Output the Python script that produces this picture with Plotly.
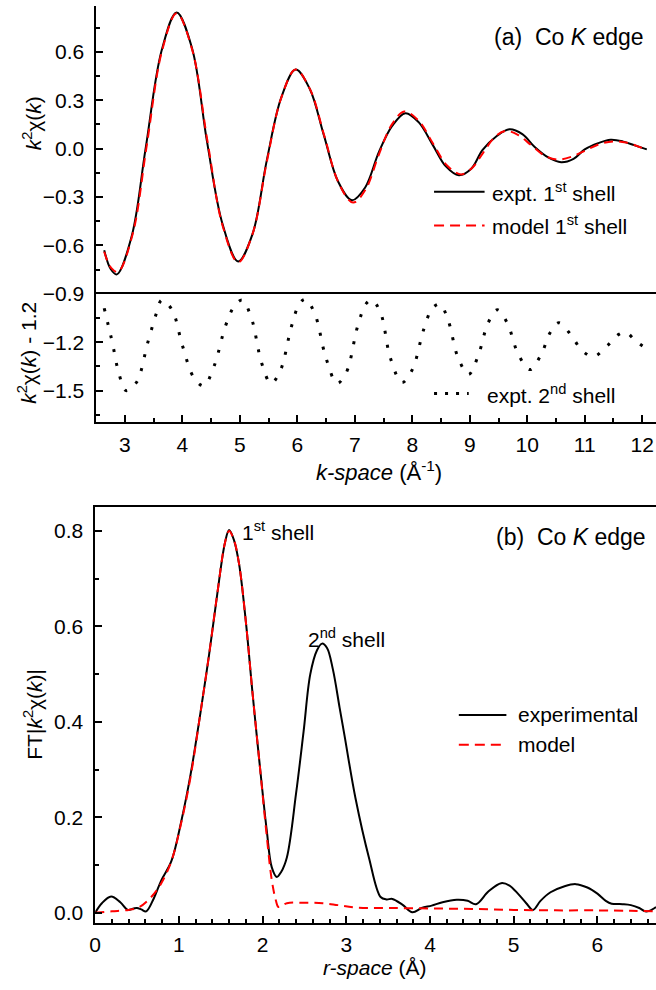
import plotly.graph_objects as go

# ---------------- (a) k-space, first shell ----------------
k_first_expt = [2.64, 2.75, 2.86, 3.12, 3.36, 3.64, 3.90, 4.17, 4.43, 4.70, 4.97, 5.22,
                5.47, 5.72, 5.97, 6.215, 6.46, 6.705, 6.95, 7.18, 7.42, 7.65, 7.88, 8.11,
                8.36, 8.58, 8.81, 9.03, 9.22, 9.47, 9.69, 9.915, 10.13, 10.365, 10.59,
                10.805, 11.00, 11.235, 11.45, 11.66, 11.87, 12.08]
chi_first_expt = [-0.63, -0.745, -0.78, -0.54, 0.00, 0.61, 0.845, 0.62, 0.04, -0.47, -0.70,
                  -0.53, -0.07, 0.316, 0.49, 0.371, 0.085, -0.201, -0.32, -0.241, -0.02,
                  0.141, 0.22, 0.164, 0.02, -0.109, -0.165, -0.123, -0.01, 0.078, 0.12,
                  0.09, 0.01, -0.055, -0.085, -0.064, -0.005, 0.034, 0.055, 0.045, 0.02,
                  -0.005]

k_first_model = [2.64, 2.76, 2.88, 3.135, 3.38, 3.645, 3.90, 4.17, 4.435, 4.70, 4.97,
                 5.22, 5.47, 5.72, 5.97, 6.22, 6.47, 6.72, 6.97, 7.19, 7.415, 7.64, 7.86,
                 8.11, 8.355, 8.60, 8.85, 9.04, 9.235, 9.43, 9.62, 9.845, 10.07, 10.295,
                 10.52, 10.765, 11.01, 11.255, 11.50, 11.72, 11.92, 12.08]
chi_first_model = [-0.64, -0.74, -0.765, -0.53, 0.02, 0.605, 0.84, 0.614, 0.05, -0.478,
                   -0.705, -0.53, -0.08, 0.315, 0.49, 0.369, 0.078, -0.214, -0.335, -0.252,
                   -0.04, 0.147, 0.23, 0.173, 0.035, -0.103, -0.16, -0.12, -0.025, 0.07,
                   0.11, 0.084, 0.021, -0.042, -0.068, -0.051, -0.012, 0.028, 0.045, 0.038,
                   0.015, -0.008]

# ---------------- (a) k-space, second shell (shifted by -1.2) ----------------
k_second = [2.64, 2.71, 2.78, 2.90, 3.02, 3.20, 3.40, 3.55, 3.64, 3.82, 4.00, 4.20, 4.37,
            4.55, 4.75, 4.90, 5.04, 5.20, 5.38, 5.54, 5.70, 5.90, 6.04, 6.14, 6.30, 6.50,
            6.69, 6.85, 7.05, 7.20, 7.30, 7.45, 7.62, 7.82, 8.00, 8.20, 8.35, 8.48, 8.62,
            8.80, 8.98, 9.15, 9.32, 9.48, 9.65, 9.85, 10.05, 10.25, 10.40, 10.55, 10.75,
            10.95, 11.15, 11.40, 11.60, 11.72, 11.88, 12.03]
chi_second = [-0.99, -1.095, -1.20, -1.40, -1.50, -1.45, -1.20, -1.02, -0.94, -1.00, -1.22,
              -1.42, -1.47, -1.35, -1.10, -0.98, -0.94, -1.05, -1.33, -1.455, -1.38, -1.10,
              -0.96, -0.935, -1.02, -1.30, -1.455, -1.39, -1.10, -0.96, -0.94, -1.02, -1.30,
              -1.45, -1.37, -1.12, -0.99, -0.965, -1.06, -1.30, -1.40, -1.28, -1.08, -1.00,
              -1.08, -1.28, -1.37, -1.27, -1.14, -1.08, -1.15, -1.25, -1.29, -1.22, -1.15,
              -1.14, -1.19, -1.23]

# ---------------- (b) r-space Fourier transform ----------------
r_expt = [0.00, 0.08, 0.19, 0.30, 0.39, 0.46, 0.50, 0.55, 0.61, 0.70, 0.79, 0.91, 1.03,
          1.14, 1.25, 1.36, 1.46, 1.55, 1.60, 1.66, 1.72, 1.80, 1.88, 1.96, 2.05, 2.11,
          2.17, 2.22, 2.29, 2.40, 2.49, 2.57, 2.65, 2.71, 2.77, 2.84, 2.92, 2.98, 3.11,
          3.27, 3.41, 3.48, 3.55, 3.67, 3.79, 3.90, 4.02, 4.15, 4.32, 4.45, 4.55, 4.70,
          4.85, 4.95, 5.05, 5.15, 5.23, 5.32, 5.44, 5.60, 5.74, 5.88, 6.00, 6.10, 6.17,
          6.30, 6.40, 6.50, 6.57, 6.62, 6.70]
ft_expt = [0.000, 0.020, 0.034, 0.022, 0.006, 0.009, 0.010, 0.007, 0.003, 0.030, 0.068,
           0.108, 0.193, 0.290, 0.410, 0.540, 0.670, 0.775, 0.802, 0.780, 0.730, 0.610,
           0.460, 0.320, 0.172, 0.095, 0.075, 0.085, 0.116, 0.250, 0.380, 0.500, 0.550,
           0.564, 0.555, 0.510, 0.430, 0.370, 0.240, 0.116, 0.033, 0.028, 0.029, 0.017,
           0.001, 0.010, 0.015, 0.022, 0.027, 0.025, 0.018, 0.045, 0.062, 0.057, 0.040,
           0.020, 0.006, 0.025, 0.043, 0.055, 0.060, 0.053, 0.040, 0.025, 0.019, 0.018,
           0.016, 0.010, 0.003, 0.004, 0.012]

r_model = [0.00, 0.20, 0.40, 0.53, 0.67, 0.79, 0.91, 1.03, 1.14, 1.25, 1.36, 1.46, 1.55,
           1.60, 1.66, 1.72, 1.80, 1.88, 1.96, 2.05, 2.11, 2.16, 2.19, 2.29, 2.50, 2.72,
           2.90, 3.11, 3.50, 4.00, 4.50, 5.00, 5.50, 6.00, 6.40, 6.70]
ft_model = [0.000, 0.003, 0.006, 0.012, 0.033, 0.062, 0.108, 0.190, 0.285, 0.410, 0.540,
            0.670, 0.775, 0.800, 0.780, 0.730, 0.610, 0.460, 0.320, 0.160, 0.068, 0.025,
            0.012, 0.020, 0.021, 0.020, 0.016, 0.011, 0.010, 0.009, 0.008, 0.006, 0.005,
            0.005, 0.004, 0.003]

W, H = 656, 990
FONT = "Liberation Sans, Arial, sans-serif"
RED = "#ff0000"


def px(x):
    return x / W


def py(y):
    return 1 - y / H


fig = go.Figure()

fig.add_trace(go.Scatter(x=k_first_expt, y=chi_first_expt, xaxis="x", yaxis="y",
                         mode="lines", line=dict(color="black", width=2, shape="spline"),
                         name="expt. 1st shell"))
fig.add_trace(go.Scatter(x=k_first_model, y=chi_first_model, xaxis="x", yaxis="y",
                         mode="lines",
                         line=dict(color=RED, width=2, dash="9px,6px", shape="spline"),
                         name="model 1st shell"))
fig.add_trace(go.Scatter(x=k_second, y=chi_second, xaxis="x", yaxis="y2",
                         mode="lines",
                         line=dict(color="black", width=3, dash="3px,11px", shape="spline"),
                         name="expt. 2nd shell"))
fig.add_trace(go.Scatter(x=r_expt, y=ft_expt, xaxis="x2", yaxis="y3",
                         mode="lines", line=dict(color="black", width=2, shape="spline"),
                         name="experimental"))
fig.add_trace(go.Scatter(x=r_model, y=ft_model, xaxis="x2", yaxis="y3",
                         mode="lines",
                         line=dict(color=RED, width=2, dash="9px,6px", shape="spline"),
                         name="model"))

tickfont = dict(family=FONT, size=21, color="black")
axis_common = dict(showline=True, linecolor="black", linewidth=1.6,
                   ticks="inside", ticklen=7, tickwidth=1.5, tickcolor="black",
                   showgrid=False, zeroline=False, tickfont=tickfont)
minor_common = dict(ticks="inside", ticklen=4, tickwidth=1.5, tickcolor="black",
                    showgrid=False, tick0=0)

top_dom_x = [px(91), 1.0]
bot_dom_x = [px(90), 1.0]

fig.update_layout(
    width=W, height=H,
    margin=dict(l=0, r=0, t=0, b=0),
    paper_bgcolor="white", plot_bgcolor="white",
    showlegend=False,
    font=dict(family=FONT, size=21, color="black"),
    xaxis=dict(axis_common, domain=top_dom_x, range=[2.5, 12.24], anchor="y2",
               mirror=True, dtick=1, tick0=0, ticklabelstandoff=3,
               minor=dict(minor_common, dtick=0.5)),
    xaxis3=dict(domain=top_dom_x, range=[2.5, 12.24], anchor="y", matches="x",
                showline=True, linecolor="black", linewidth=1.6, mirror=True,
                ticks="", showticklabels=False, showgrid=False, zeroline=False),
    yaxis=dict(axis_common, domain=[py(297), py(6)], range=[-0.9, 0.885], anchor="x",
               tickvals=[-0.9, -0.6, -0.3, 0.0, 0.3, 0.6], tickformat=".1f",
               ticklabelstandoff=6, minor=dict(minor_common, dtick=0.15)),
    yaxis2=dict(axis_common, domain=[py(427), py(297)], range=[-1.696, -0.9], anchor="x",
                tickvals=[-1.5, -1.2], tickformat=".1f", ticklabelstandoff=6,
                minor=dict(minor_common, dtick=0.15)),
    xaxis2=dict(axis_common, domain=bot_dom_x, range=[0, 6.70], anchor="y3",
                mirror=True, dtick=1, tick0=0, ticklabelstandoff=2,
                minor=dict(minor_common, dtick=0.2)),
    yaxis3=dict(axis_common, domain=[py(933), py(513)], range=[-0.0207, 0.8497],
                anchor="x2", dtick=0.2, tick0=0, tickformat=".1f", ticklabelstandoff=6,
                minor=dict(minor_common, dtick=0.1)),
)

ann = []


def text(x, y, s, size=21, xanchor="left", angle=0):
    ann.append(dict(x=px(x), y=py(y), xref="paper", yref="paper", text=s,
                    showarrow=False, xanchor=xanchor, yanchor="middle",
                    textangle=angle, font=dict(family=FONT, size=size, color="black")))


# panel labels
text(646, 37, "(a)&nbsp;&nbsp;Co <i>K</i> edge", size=23, xanchor="right")
text(648, 543, "(b)&nbsp;&nbsp;Co <i>K</i> edge", size=23, xanchor="right")

# peak labels
text(236, 537, "1<sup>st</sup> shell")
text(303, 645, "2<sup>nd</sup> shell")

# axis titles
text(376, 476, "<i>k-space</i> (Å<sup>-1</sup>)", size=22, xanchor="center")
text(372, 978, "<i>r-space</i> (Å)", size=21, xanchor="center")
text(26, 125, "<i>k</i><sup>2</sup>χ(<i>k</i>)", xanchor="center", angle=-90)
text(21, 357, "<i>k</i><sup>2</sup>χ(<i>k</i>) - 1.2", xanchor="center", angle=-90)
text(27, 722, "FT|<i>k</i><sup>2</sup>χ(<i>k</i>)|", xanchor="center", angle=-90)

# legend entries
legend_items = [
    (432, 483, 194, "black", 2, "solid", "expt. 1<sup>st</sup> shell", 488),
    (432, 483, 228, RED, 2, "10px,6px", "model 1<sup>st</sup> shell", 488),
    (432, 467, 398, "black", 3, "3px,8px", "expt. 2<sup>nd</sup> shell", 483),
    (457, 505, 723, "black", 2, "solid", "experimental", 515),
    (457, 505, 753, RED, 2, "10px,6px", "model", 515),
]
shapes = []
for x0, x1, y, color, width, dash, label, tx in legend_items:
    shapes.append(dict(type="line", xref="paper", yref="paper",
                       x0=px(x0), x1=px(x1), y0=py(y), y1=py(y),
                       line=dict(color=color, width=width, dash=dash)))
    text(tx, y, label)

fig.update_layout(annotations=ann, shapes=shapes)

fig.write_html("out.html")
